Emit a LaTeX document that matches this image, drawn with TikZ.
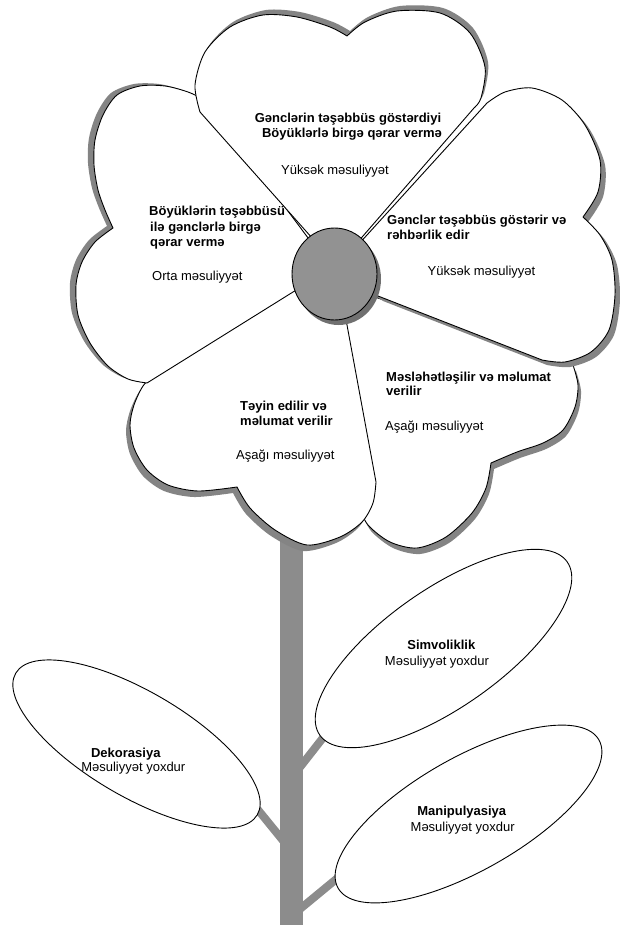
\documentclass[tikz,border=0pt]{standalone}
\usepackage{fontspec}
\setmainfont{Liberation Sans}
\usetikzlibrary{shapes.geometric}
\definecolor{shadowgray}{RGB}{132,132,132}
\definecolor{stemgray}{RGB}{140,140,140}
\definecolor{centergray}{RGB}{146,146,146}
\tikzset{
  petal/.style={fill=white, draw=black, line width=0.9pt, line join=round},
  petalshadow/.style={fill=shadowgray},
  boldtext/.style={font=\fontsize{13}{15}\selectfont\bfseries, inner sep=0pt},
  plaintext/.style={font=\fontsize{13}{15}\selectfont, inner sep=0pt},
  leaf/.style={draw=black, line width=0.9pt, fill=white, ellipse, inner sep=0pt},
  stemline/.style={draw=stemgray, line width=23pt},
  branch/.style={draw=stemgray, line width=8pt},
}
\def\PetalBR{(340,285) -- (358,505) -- plot[smooth] coordinates {(358,505) (368,525) (390,542) (417,548) (446,537) (472,513) (486,488) (491,463)} -- plot[smooth] coordinates {(491,463) (517,452) (543,443) (563,430) (575,407) (578,385) (573,365)} -- cycle}
\def\PetalBL{(335,282) -- (300,287) -- (155,374) -- plot[smooth] coordinates {(155,374) (143,386) (134,405) (130,425) (134,448) (147,470) (168,485) (198,491) (237,487)} -- plot[smooth] coordinates {(237,487) (250,508) (275,530) (307,545) (340,537) (362,522) (373,503) (376,482)} -- (347,325) -- cycle}
\def\PetalL{(332,270) -- (205,100) -- plot[smooth] coordinates {(205,100) (188,92) (165,86) (140,86) (117,95) (103,115) (95,140) (94,165) (98,190) (105,210) (113,228)} -- plot[smooth] coordinates {(113,228) (95,242) (82,262) (76,285) (78,315) (90,343) (108,366) (128,379) (147,383)} -- (293,292) -- cycle}
\def\PetalT{(337,266) -- (200,112) -- plot[smooth] coordinates {(200,112) (195,85) (205,52) (230,27) (263,15) (297,17) (330,27) (347,36)} -- plot[smooth] coordinates {(347,36) (365,22) (397,11) (440,13) (470,33) (485,67) (481,98) (474,108)} -- cycle}
\def\PetalR{(337,268) -- (487,103) -- plot[smooth] coordinates {(487,103) (505,92) (532,88) (562,100) (585,125) (600,160) (598,192) (583,217)} -- plot[smooth] coordinates {(583,217) (600,235) (612,260) (615,295) (609,330) (591,352) (565,362) (542,360)} -- (378,296) -- cycle}
\begin{document}
\begin{tikzpicture}[x=1pt, y=-1pt]
\useasboundingbox (0,0) rectangle (620,925);
\fill[white] (0,0) rectangle (620,925);
% stem and branches
\coordinate (stemtop) at (291.5,500);
\coordinate (stembot) at (291.5,930);
\draw[stemline] (stemtop) -- (stembot);
\coordinate (bsimv) at (291.5,778);
\coordinate (esimv) at (333,725);
\coordinate (bmani) at (291.5,916);
\coordinate (emani) at (340,876);
\coordinate (bdeko) at (291.5,851);
\coordinate (edeko) at (250,800);
\draw[branch] (bsimv) -- (esimv);
\draw[branch] (bmani) -- (emani);
\draw[branch] (bdeko) -- (edeko);
% leaves
\node[leaf, minimum width=302pt, minimum height=118pt, rotate=35] (simv) at (443.5,648.5) {};
\node[leaf, minimum width=300pt, minimum height=113pt, rotate=29.6] (mani) at (468.5,814) {};
\node[leaf, minimum width=280pt, minimum height=105pt, rotate=-30.4] (deko) at (136.5,744) {};
% petals
\fill[petalshadow, shift={(3,6)}] \PetalBR;
\path[petal] \PetalBR;
\fill[petalshadow, shift={(-4,6)}] \PetalBL;
\path[petal] \PetalBL;
\fill[petalshadow, shift={(-6,-2)}] \PetalL;
\path[petal] \PetalL;
\fill[petalshadow, shift={(3,-5)}] \PetalT;
\path[petal] \PetalT;
\fill[petalshadow, shift={(5,5)}] \PetalR;
\path[petal] \PetalR;
% centre
\node[ellipse, fill=shadowgray!85!black, minimum width=85pt, minimum height=92pt, inner sep=0pt] (ctrshadow) at (338.5,279) {};
\node[ellipse, draw=black, line width=0.9pt, fill=centergray, minimum width=85pt, minimum height=92pt, inner sep=0pt] (ctr) at (334.5,274) {};
% petal texts
\node[boldtext, anchor=base] (t1) at (348,122.5) {Gənclərin təşəbbüs göstərdiyi};
\node[boldtext, anchor=base] (t2) at (352,137.5) {Böyüklərlə birgə qərar vermə};
\node[plaintext, anchor=base] (t3) at (335,175) {Yüksək məsuliyyət};
\node[boldtext, anchor=base west] (l1) at (149,216) {Böyüklərin təşəbbüsü};
\node[boldtext, anchor=base west] (l2) at (150,231) {ilə gənclərlə birgə};
\node[boldtext, anchor=base west] (l3) at (150,246) {qərar vermə};
\node[plaintext, anchor=base west] (l4) at (152,280) {Orta məsuliyyət};
\node[boldtext, anchor=base west] (r1) at (387,225) {Gənclər təşəbbüs göstərir və};
\node[boldtext, anchor=base west] (r2) at (387,239.5) {rəhbərlik edir};
\node[plaintext, anchor=base] (r3) at (481.5,275.5) {Yüksək məsuliyyət};
\node[boldtext, anchor=base west] (br1) at (386,381) {Məsləhətləşilir və məlumat};
\node[boldtext, anchor=base west] (br2) at (386,395.5) {verilir};
\node[plaintext, anchor=base west] (br3) at (385,430) {Aşağı məsuliyyət};
\node[boldtext, anchor=base west] (bl1) at (240,410.5) {Təyin edilir və};
\node[boldtext, anchor=base west] (bl2) at (240,425) {məlumat verilir};
\node[plaintext, anchor=base west] (bl3) at (236,459.5) {Aşağı məsuliyyət};
% leaf texts
\node[boldtext, anchor=base] (s1) at (441.3,649) {Simvoliklik};
\node[plaintext, anchor=base] (s2) at (437,665.5) {Məsuliyyət yoxdur};
\node[boldtext, anchor=base] (m1) at (461.7,815) {Manipulyasiya};
\node[plaintext, anchor=base] (m2) at (462.7,831.5) {Məsuliyyət yoxdur};
\node[boldtext, anchor=base] (d1) at (125.8,757.3) {Dekorasiya};
\node[plaintext, anchor=base] (d2) at (133.3,771.7) {Məsuliyyət yoxdur};
\end{tikzpicture}
\end{document}
